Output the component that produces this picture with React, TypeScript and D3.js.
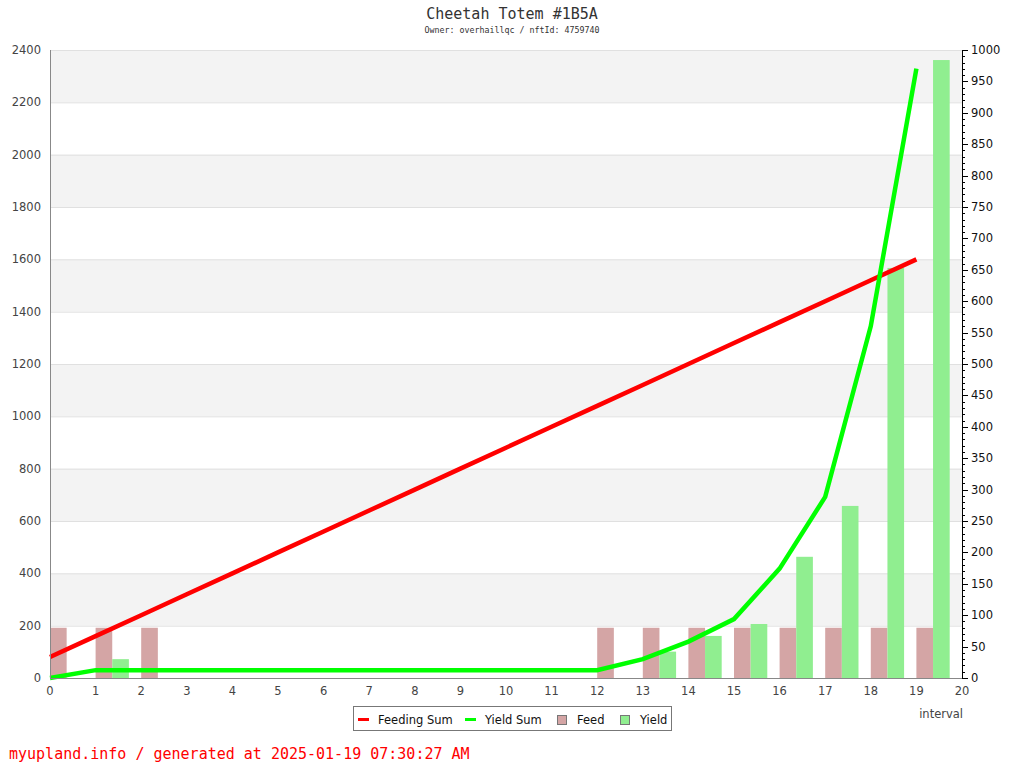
import React, { useRef, useEffect } from "react";
import * as d3 from "d3";

const INTERVALS = [0, 1, 2, 3, 4, 5, 6, 7, 8, 9, 10, 11, 12, 13, 14, 15, 16, 17, 18, 19];
const FEED = [80, 80, 80, 0, 0, 0, 0, 0, 0, 0, 0, 0, 80, 80, 80, 80, 80, 80, 80, 80];
const YIELD = [0, 30, 0, 0, 0, 0, 0, 0, 0, 0, 0, 0, 0, 42, 67, 86, 193, 274, 653, 984];
const FEEDING_SUM = [80, 160, 240, 320, 400, 480, 560, 640, 720, 800, 880, 960, 1040, 1120, 1200, 1280, 1360, 1440, 1520, 1600];
const YIELD_SUM = [0, 30, 30, 30, 30, 30, 30, 30, 30, 30, 30, 30, 30, 72, 139, 225, 418, 692, 1345, 2329];
const LEFT_TICKS = [0, 200, 400, 600, 800, 1000, 1200, 1400, 1600, 1800, 2000, 2200, 2400];
const X_TICKS = [0, 1, 2, 3, 4, 5, 6, 7, 8, 9, 10, 11, 12, 13, 14, 15, 16, 17, 18, 19, 20];

const TITLE = "Cheetah Totem #1B5A";
const SUBTITLE = "Owner: overhaillqc / nftId: 4759740";
const FOOTER = "myupland.info / generated at 2025-01-19 07:30:27 AM";

const FEED_COLOR = "#d4a5a5";
const YIELD_COLOR = "#90ee90";
const RED = "#ff0000";
const GREEN = "#00ff00";
const MONO = "'DejaVu Sans Mono', monospace";
const SANS = "'DejaVu Sans', sans-serif";

const M = { top: 50, right: 62, bottom: 90, left: 50 };
const W = 1024;
const H = 768;

const App: React.FC = () => {
  const svgRef = useRef<SVGSVGElement>(null);

  useEffect(() => {
    const svg = d3.select(svgRef.current);
    svg.selectAll("*").remove();
    const iW = W - M.left - M.right;
    const iH = H - M.top - M.bottom;

    svg.append("rect").attr("width", W).attr("height", H).attr("fill", "#fff");

    const g = svg.append("g").attr("transform", `translate(${M.left},${M.top})`);

    const x = d3.scaleLinear().domain([0, 20]).range([0, iW]);
    const yL = d3.scaleLinear().domain([0, 2400]).range([iH, 0]);
    const yR = d3.scaleLinear().domain([0, 1000]).range([iH, 0]);

    // alternating bands
    LEFT_TICKS.slice(0, -1).forEach((t, i) => {
      if (i % 2 === 1) {
        g.append("rect")
          .attr("x", 0).attr("width", iW)
          .attr("y", yL(t + 200)).attr("height", yL(t) - yL(t + 200))
          .attr("fill", "#f3f3f3");
      }
    });
    g.append("g")
      .selectAll("line")
      .data(LEFT_TICKS.slice(1))
      .join("line")
      .attr("x1", 0).attr("x2", iW)
      .attr("y1", d => yL(d) + 0.5).attr("y2", d => yL(d) + 0.5)
      .attr("stroke", "#e0e0e0");

    // bars
    const bw = 0.365;
    g.append("g").selectAll("rect")
      .data(INTERVALS.filter(i => FEED[i] > 0))
      .join("rect")
      .attr("x", i => x(i)).attr("width", i => x(i + bw) - x(i))
      .attr("y", i => yR(FEED[i])).attr("height", i => iH - yR(FEED[i]))
      .attr("fill", FEED_COLOR);
    g.append("g").selectAll("rect")
      .data(INTERVALS.filter(i => YIELD[i] > 0))
      .join("rect")
      .attr("x", i => x(i + bw)).attr("width", i => x(i + 2 * bw) - x(i + bw))
      .attr("y", i => yR(YIELD[i])).attr("height", i => iH - yR(YIELD[i]))
      .attr("fill", YIELD_COLOR);

    // lines
    const line = (vals: number[]) =>
      d3.line<number>().x(i => x(i)).y(i => yL(vals[i]))(INTERVALS);
    g.append("path").attr("d", line(FEEDING_SUM)).attr("fill", "none")
      .attr("stroke", RED).attr("stroke-width", 4.5);
    g.append("path").attr("d", line(YIELD_SUM)).attr("fill", "none")
      .attr("stroke", GREEN).attr("stroke-width", 4.5);

    // left axis
    g.append("line").attr("x1", 0.5).attr("x2", 0.5).attr("y1", 0).attr("y2", iH)
      .attr("stroke", "#888");
    g.append("g").selectAll("text")
      .data(LEFT_TICKS)
      .join("text")
      .attr("x", -9).attr("y", d => yL(d) + 4)
      .attr("text-anchor", "end")
      .attr("font-family", SANS).attr("font-size", 11.5)
      .attr("fill", "#444")
      .text(d => d);

    // bottom axis
    g.append("line").attr("x1", 0).attr("x2", iW).attr("y1", iH + 0.5).attr("y2", iH + 0.5)
      .attr("stroke", "#888");
    g.append("g").selectAll("text")
      .data(X_TICKS)
      .join("text")
      .attr("x", d => x(d)).attr("y", iH + 17)
      .attr("text-anchor", "middle")
      .attr("font-family", SANS).attr("font-size", 11.5)
      .attr("fill", "#444")
      .text(d => d);
    g.append("text")
      .attr("x", iW + 1).attr("y", iH + 40)
      .attr("text-anchor", "end")
      .attr("font-family", SANS).attr("font-size", 11.5)
      .attr("fill", "#444")
      .text("interval");

    // right axis
    const rAx = g.append("g").attr("transform", `translate(${iW},0)`);
    rAx.append("line").attr("x1", 0.5).attr("x2", 0.5).attr("y1", 0).attr("y2", iH)
      .attr("stroke", "#000");
    rAx.selectAll("line.tk")
      .data(d3.range(0, 1001, 10))
      .join("line")
      .attr("class", "tk")
      .attr("x1", 0).attr("x2", d => (d % 50 === 0 ? 6 : 3))
      .attr("y1", d => Math.round(yR(d)) + 0.5).attr("y2", d => Math.round(yR(d)) + 0.5)
      .attr("stroke", "#000");
    rAx.selectAll("text")
      .data(yR.ticks(20))
      .join("text")
      .attr("x", 9).attr("y", d => yR(d) + 4)
      .attr("font-family", SANS).attr("font-size", 11.5)
      .attr("fill", "#111")
      .text(d => d);

    // title
    svg.append("text").attr("x", 512).attr("y", 19).attr("text-anchor", "middle")
      .attr("font-family", MONO).attr("font-size", 15).attr("fill", "#333")
      .text(TITLE);
    svg.append("text").attr("x", 512).attr("y", 33).attr("text-anchor", "middle")
      .attr("font-family", MONO).attr("font-size", 8.3).attr("fill", "#333")
      .text(SUBTITLE);

    // legend
    const lg = svg.append("g").attr("transform", "translate(353,706)");
    lg.append("rect").attr("x", 0.5).attr("y", 0.5).attr("width", 318).attr("height", 24)
      .attr("fill", "#fff").attr("stroke", "#777");
    const items = [
      { label: "Feeding Sum", kind: "line", color: RED, x: 5 },
      { label: "Yield Sum", kind: "line", color: GREEN, x: 112 },
      { label: "Feed", kind: "box", color: FEED_COLOR, x: 204 },
      { label: "Yield", kind: "box", color: YIELD_COLOR, x: 267 },
    ];
    items.forEach(it => {
      if (it.kind === "line") {
        lg.append("rect").attr("x", it.x).attr("y", 12).attr("width", 11).attr("height", 3)
          .attr("fill", it.color);
      } else {
        lg.append("rect").attr("x", it.x + 0.5).attr("y", 9.5).attr("width", 9).attr("height", 9)
          .attr("fill", it.color).attr("stroke", "#777");
      }
      lg.append("text").attr("x", it.x + (it.kind === "line" ? 20 : 20)).attr("y", 18)
        .attr("font-family", SANS).attr("font-size", 11.5).attr("fill", "#111")
        .text(it.label);
    });

    // footer
    svg.append("text").attr("x", 9).attr("y", 759)
      .attr("font-family", MONO).attr("font-size", 15).attr("fill", "#ff0000")
      .text(FOOTER);
  }, []);

  return (
    <div style={{ position: "absolute", left: 0, top: 0 }}>
      <svg ref={svgRef} width={W} height={H} style={{ display: "block" }} />
    </div>
  );
};

export default App;
